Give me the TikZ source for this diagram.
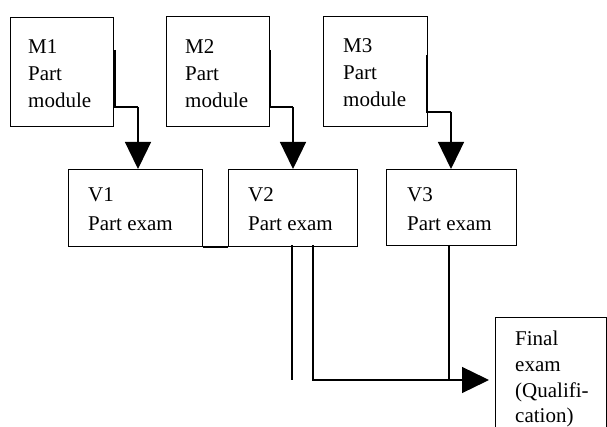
\documentclass[tikz,border=0pt]{standalone}
\usepackage{fontspec}
\setmainfont{Liberation Serif}
\usetikzlibrary{arrows.meta}
\tikzset{
  box/.style={draw=black, line width=1.3pt, fill=none, inner sep=0pt, anchor=north west},
  txt/.style={inner sep=0pt, anchor=north west, align=left},
  mtxt/.style={txt, font=\fontsize{21}{27}\selectfont},
  vtxt/.style={txt, font=\fontsize{21}{29}\selectfont},
  ftxt/.style={txt, font=\fontsize{21}{25.7}\selectfont},
  conn/.style={draw=black, line width=1.3pt},
  arr/.style={conn, -{Triangle[width=26pt,length=27pt]}},
}
\begin{document}
\begin{tikzpicture}[x=1pt,y=-1pt]
\useasboundingbox (0,0) rectangle (607,427);
\clip (0,0) rectangle (607,427);
\fill[white] (0,0) rectangle (607,427);
% module boxes
\node[box, minimum width=103pt, minimum height=109pt] (m1) at (10,17) {};
\node[box, minimum width=103pt, minimum height=110pt] (m2) at (166,16) {};
\node[box, minimum width=104pt, minimum height=110pt] (m3) at (323,16) {};
\node[mtxt] (m1t) at (28,39) {M1\\Part\\module};
\node[mtxt] (m2t) at (185,39) {M2\\Part\\module};
\node[mtxt] (m3t) at (343,38) {M3\\Part\\module};
% exam boxes
\node[box, minimum width=134pt, minimum height=77pt] (v1) at (68,169) {};
\node[box, minimum width=129pt, minimum height=77pt] (v2) at (228,169) {};
\node[box, minimum width=130pt, minimum height=76pt] (v3) at (386,169) {};
\node[vtxt] (v1t) at (88,187) {V1\\Part exam};
\node[vtxt] (v2t) at (248,187) {V2\\Part exam};
\node[vtxt] (v3t) at (407,187) {V3\\Part exam};
% final box
\node[box, minimum width=111pt, minimum height=140pt] (fin) at (495,317) {};
\node[ftxt] (fint) at (515,331) {Final\\exam\\(Qualifi-\\cation)};
% connector points
\coordinate (a1) at (115,50);
\coordinate (b1) at (115,107);
\coordinate (c1) at (138,107);
\coordinate (a2) at (270,50);
\coordinate (b2) at (270,107);
\coordinate (c2) at (293,107);
\coordinate (a3) at (427,55);
\coordinate (b3) at (427,112);
\coordinate (c3) at (451,112);
\draw[conn] (a1) -- (b1) -- (c1);
\draw[arr] (c1) -- (c1 |- v1.north);
\draw[conn] (a2) -- (b2) -- (c2);
\draw[arr] (c2) -- (c2 |- v2.north);
\draw[conn] (a3) -- (b3) -- (c3);
\draw[arr] (c3) -- (c3 |- v3.north);
% bottom connectors
\draw[conn, line width=1.8pt] (v1.south east) -- (v2.south west);
\coordinate (d1) at (292,245);
\coordinate (e1) at (292,380);
\coordinate (d2) at (313,245);
\coordinate (e2) at (313,380);
\coordinate (tip) at (489,380);
\coordinate (d3) at (449,245);
\coordinate (e3) at (449,380);
\draw[conn] (d1) -- (e1);
\draw[arr] (d2) -- (e2) -- (tip);
\draw[conn] (d3) -- (e3);
\end{tikzpicture}
\end{document}
